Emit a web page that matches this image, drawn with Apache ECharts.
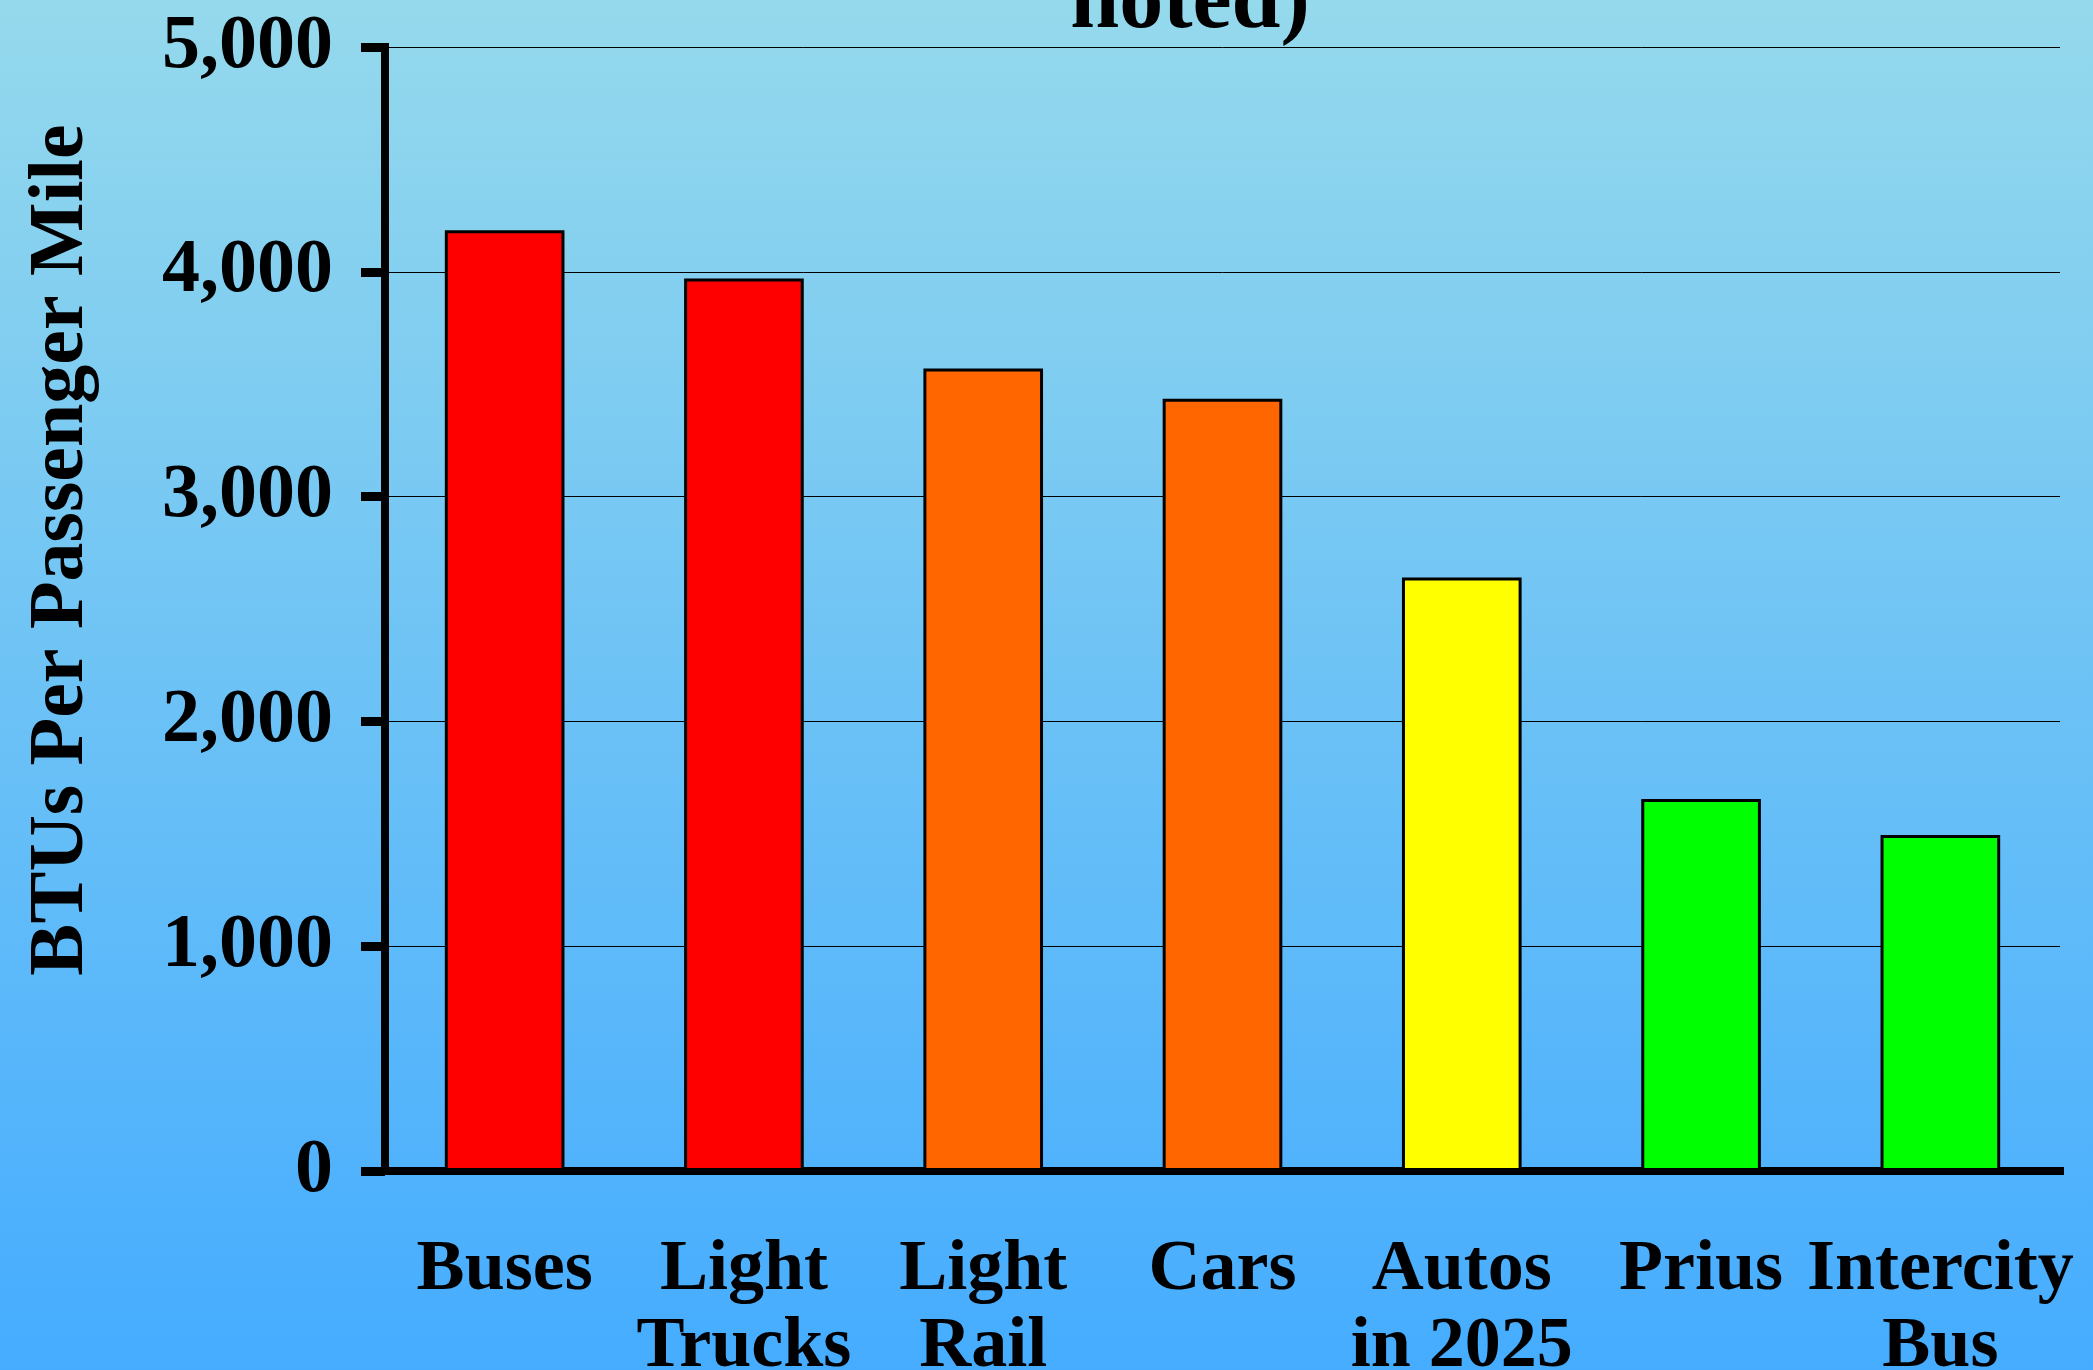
<!DOCTYPE html>
<html>
<head>
<meta charset="utf-8">
<script src="https://cdn.jsdelivr.net/npm/echarts@6/dist/echarts.min.js"></script>
<style>
html,body{margin:0;padding:0;}
#chart{width:2093px;height:1370px;}
</style>
</head>
<body>
<div id="chart"></div>
<script>
const categories = ['Buses', 'Light\nTrucks', 'Light\nRail', 'Cars', 'Autos\nin 2025', 'Prius', 'Intercity\nBus'];
const btuValues = [4185, 3970, 3570, 3435, 2640, 1655, 1495];
const barColors = ['#FF0000', '#FF0000', '#FF6600', '#FF6600', '#FFFF00', '#00FF00', '#00FF00'];
const yTickLabels = ['0', '1,000', '2,000', '3,000', '4,000', '5,000'];
const yAxisTitle = 'BTUs Per Passenger Mile';
const titleVisible = 'noted)';

const FONT = '"Liberation Serif", "Times New Roman", serif';
const chart = echarts.init(document.getElementById('chart'));
chart.setOption({
  animation: false,
  backgroundColor: {
    type: 'linear', x: 0, y: 0, x2: 0, y2: 1,
    colorStops: [{offset: 0, color: '#95D9EC'}, {offset: 1, color: '#45ACFF'}]
  },
  grid: {left: 385, right: 33, top: 47, bottom: 199, containLabel: false, outerBoundsMode: 'none'},
  graphic: [
    {type: 'text', x: 1190, y: 4, style: {text: titleVisible, font: 'bold 88px ' + FONT, fill: '#000', textAlign: 'center', textVerticalAlign: 'middle'}},
    {type: 'text', x: 62, y: 550, rotation: Math.PI / 2, style: {text: yAxisTitle, font: 'bold 78px ' + FONT, fill: '#000', textAlign: 'center', textVerticalAlign: 'middle'}}
  ],
  xAxis: {
    type: 'category',
    data: categories,
    axisLine: {show: true, lineStyle: {color: '#000', width: 8, cap: 'square'}},
    axisTick: {show: false},
    axisLabel: {interval: 0, margin: 61, color: '#000', fontFamily: FONT, fontWeight: 'bold', fontSize: 72, lineHeight: 77}
  },
  yAxis: {
    type: 'value',
    min: 0, max: 5000, interval: 1000,
    axisLine: {show: true, lineStyle: {color: '#000', width: 8, cap: 'square'}},
    axisTick: {show: true, length: 24, lineStyle: {color: '#000', width: 9}},
    axisLabel: {margin: 52, color: '#000', fontFamily: FONT, fontWeight: 'bold', fontSize: 76,
      formatter: function (v) { return yTickLabels[Math.round(v / 1000)]; }},
    splitLine: {show: true, lineStyle: {color: '#000', width: 1}}
  },
  series: [{
    type: 'bar',
    barWidth: '50%',
    data: btuValues.map(function (v, i) {
      return {value: v, itemStyle: {color: barColors[i], borderColor: '#000', borderWidth: 3}};
    })
  }]
});
</script>
</body>
</html>
